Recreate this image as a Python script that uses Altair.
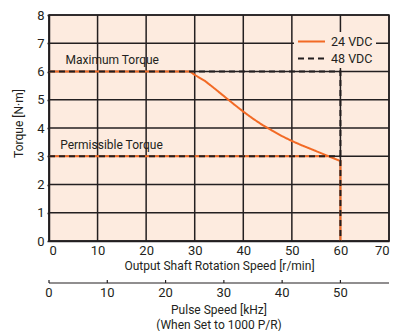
import altair as alt
import pandas as pd

# ---- data ----
series = ["24 VDC", "48 VDC"]

speed_24 = [0, 29, 30, 32, 34, 36, 38, 40, 42, 44, 46, 48, 50, 52, 54, 56, 58, 60, 60]
torque_24 = [6, 6, 5.88, 5.68, 5.41, 5.13, 4.85, 4.58, 4.33, 4.1, 3.9, 3.71, 3.54, 3.39, 3.25, 3.11, 2.97, 2.83, 0]
perm_speed_24 = [0, 57.4]
perm_torque_24 = [3, 3]

speed_48 = [0, 60, 60]
torque_48 = [6, 6, 0]
perm_speed_48 = [0, 60]
perm_torque_48 = [3, 3]

x_ticks = [0, 10, 20, 30, 40, 50, 60, 70]
y_ticks = [0, 1, 2, 3, 4, 5, 6, 7, 8]
pulse_ticks = [0, 10, 20, 30, 40, 50]
rpm_per_khz = 1.2  # 50 kHz <-> 60 r/min

ann_text = ["Maximum Torque", "Permissible Torque"]
ann_speed = [3.4, 2.3]
ann_torque = [6.4, 3.4]

pulse_title = ["Pulse Speed [kHz]", "(When Set to 1000 P/R)"]

# ---- styling ----
ORANGE = "#F26A25"
DARK = "#231F20"
BG = "#FDEBDF"
FONT = "Roboto"
W, H = 340, 226
PX = H / (y_ticks[-1] - y_ticks[0])          # pixels per torque unit
PULSE_AXIS_Y = -42 / PX                        # pulse axis 42 px below the plot
PULSE_TITLE_Y = [-69 / PX, -84 / PX]

def seg_rows(xs, ys, s, seg):
    return [dict(speed=a, torque=b, series=s, seg=seg, i=k) for k, (a, b) in enumerate(zip(xs, ys))]

df24 = pd.DataFrame(seg_rows(speed_24, torque_24, series[0], "main")
                    + seg_rows(perm_speed_24, perm_torque_24, series[0], "perm"))
df48 = pd.DataFrame(seg_rows(speed_48, torque_48, series[1], "main")
                    + seg_rows(perm_speed_48, perm_torque_48, series[1], "perm"))
dfann = pd.DataFrame(dict(speed=ann_speed, torque=ann_torque, label=ann_text))
dfgx = pd.DataFrame(dict(speed=x_ticks,
                         torque=[y_ticks[0]] * len(x_ticks),
                         torque2=[y_ticks[-1]] * len(x_ticks)))
dfgy = pd.DataFrame(dict(torque=y_ticks,
                         speed=[x_ticks[0]] * len(y_ticks),
                         speed2=[x_ticks[-1]] * len(y_ticks)))
n = len(pulse_ticks)
dfpax = pd.DataFrame(dict(speed=[x_ticks[0]], speed2=[x_ticks[-1]], torque=[PULSE_AXIS_Y]))
dfptick = pd.DataFrame(dict(speed=[p * rpm_per_khz for p in pulse_ticks],
                            torque=[PULSE_AXIS_Y] * n,
                            torque2=[PULSE_AXIS_Y + 3 / PX] * n,
                            label=[str(p) for p in pulse_ticks]))
dfptitle = pd.DataFrame(dict(speed=[x_ticks[-1] / 2] * 2, torque=PULSE_TITLE_Y, label=pulse_title))

legend = alt.Legend(
    title=None, orient="none", legendX=245, legendY=17, fillColor=BG, padding=3,
    symbolType="stroke", symbolSize=729, symbolStrokeWidth=2, clipHeight=13,
    rowPadding=4, labelOffset=5, labelFont=FONT, labelFontSize=12.5, labelColor=DARK,
)

x_scale = alt.Scale(domain=[0, 70], nice=False)
y_scale = alt.Scale(domain=[0, 8], nice=False)
x_enc = alt.X("speed:Q", scale=x_scale,
              axis=alt.Axis(values=x_ticks, title="Output Shaft Rotation Speed [r/min]",
                            grid=False, tickSize=0, labelPadding=3, titlePadding=3))
y_enc = alt.Y("torque:Q", scale=y_scale,
              axis=alt.Axis(values=y_ticks, title="Torque [N·m]", grid=False, tickSize=2,
                            labelPadding=3, titlePadding=11, titleY=108, labelOverlap=False))
color = alt.Color("series:N", scale=alt.Scale(domain=series, range=[ORANGE, DARK]), legend=legend)
dash = alt.StrokeDash("series:N", scale=alt.Scale(domain=series, range=[[1, 0], [6, 4]]), legend=legend)

grid_x = alt.Chart(dfgx).mark_rule(color=DARK, strokeWidth=1.5).encode(
    x=x_enc, y=y_enc, y2="torque2:Q")
grid_y = alt.Chart(dfgy).mark_rule(color=DARK, strokeWidth=1.5).encode(
    y=y_enc, x=x_enc, x2="speed2:Q")

orange = alt.Chart(df24).mark_line(strokeWidth=2, strokeCap="butt").encode(
    x=x_enc, y=y_enc, color=color, strokeDash=dash, detail="seg:N", order="i:Q")
black = alt.Chart(df48).mark_line(strokeWidth=2, strokeCap="butt").encode(
    x=x_enc, y=y_enc, color=color, strokeDash=dash, detail="seg:N", order="i:Q")
text = alt.Chart(dfann).mark_text(align="left", baseline="middle", font=FONT,
                                  fontSize=12, color=DARK).encode(
    x=x_enc, y=y_enc, text="label:N")

# secondary (pulse speed) axis, drawn through the same speed scale
pax = alt.Chart(dfpax).mark_rule(color=DARK, strokeWidth=1.2).encode(
    x=x_enc, x2="speed2:Q", y=y_enc)
ptick = alt.Chart(dfptick).mark_rule(color=DARK, strokeWidth=1.2).encode(
    x=x_enc, y=y_enc, y2="torque2:Q")
plab = alt.Chart(dfptick).mark_text(align="center", baseline="top", dy=4, font=FONT,
                                    fontSize=13, color=DARK).encode(
    x=x_enc, y=y_enc, text="label:N")
ptitle = alt.Chart(dfptitle).mark_text(align="center", baseline="middle", font=FONT,
                                       fontSize=12, color=DARK).encode(
    x=x_enc, y=y_enc, text="label:N")

chart = alt.layer(grid_x, grid_y, orange, black, text, pax, ptick, plab, ptitle).properties(
    width=W, height=H,
    autosize=alt.AutoSizeParams(type="none"),
    padding={"left": 41, "top": 7, "right": 2, "bottom": 90},
    background="white",
).configure_view(fill=BG, stroke=DARK, strokeWidth=1.5).configure_axis(
    labelFont=FONT, titleFont=FONT, labelFontSize=13, titleFontSize=12,
    labelColor=DARK, titleColor=DARK, titleFontWeight="normal",
    domainColor=DARK, domainWidth=1.5, tickColor=DARK, tickWidth=1.5,
)

chart.save("out.html", embed_options={"renderer": "svg", "actions": False})
